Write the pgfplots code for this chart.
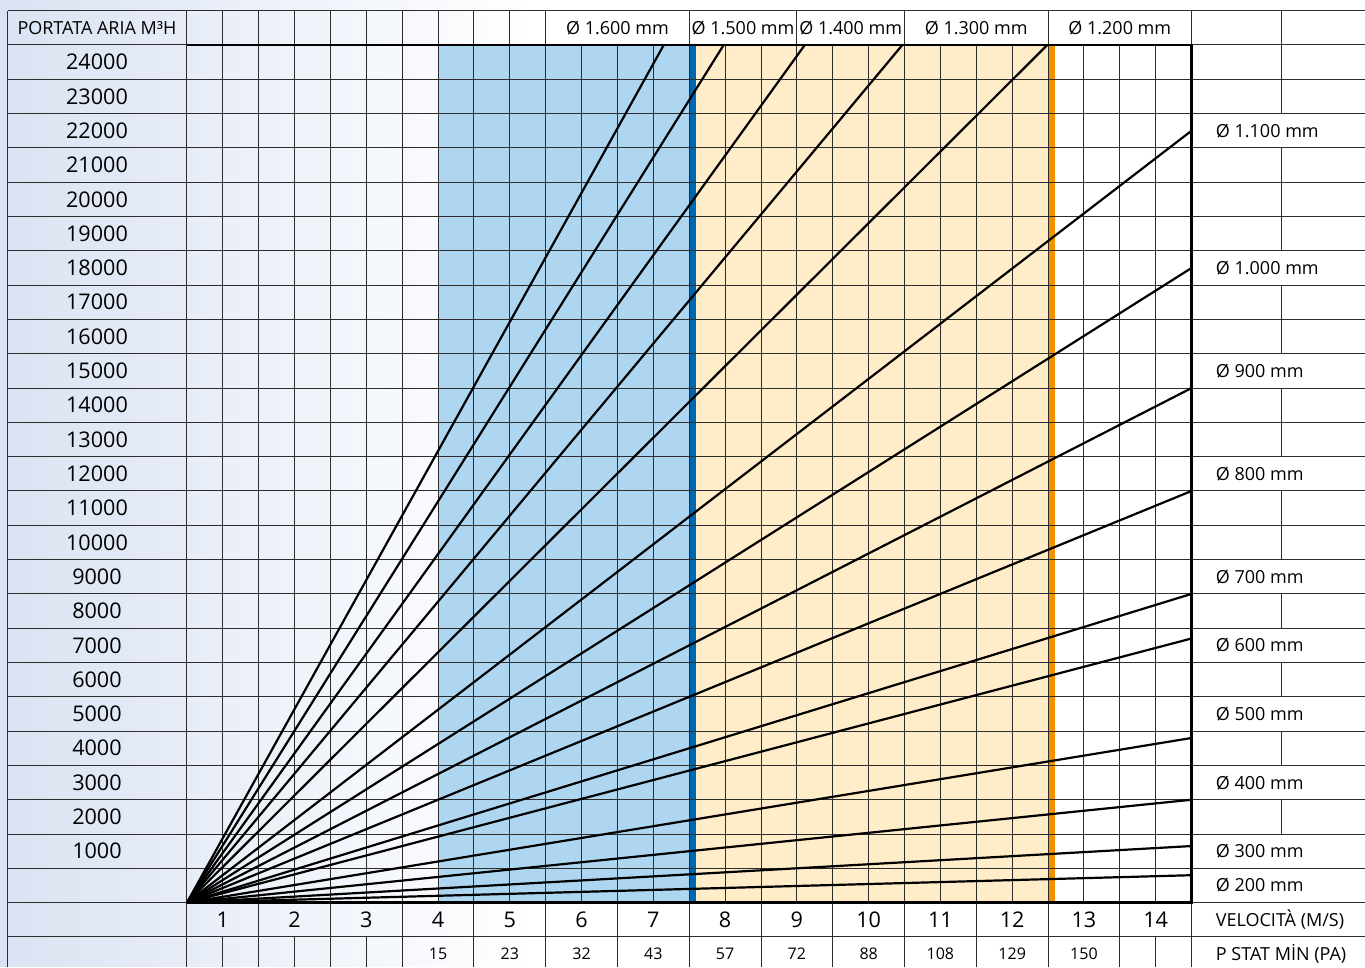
\documentclass[border=0pt]{standalone}
\usepackage{pgfplots}
\pgfplotsset{compat=1.18}
\usepackage{fontspec}
\setmainfont{Open Sans}
\definecolor{bgblue}{RGB}{218,227,243}
\definecolor{lblue}{RGB}{174,214,241}
\definecolor{cream}{RGB}{255,236,200}
\definecolor{dblue}{RGB}{0,103,177}
\definecolor{orng}{RGB}{243,146,0}
\definecolor{gridc}{RGB}{45,45,45}
\begin{document}
\begin{tikzpicture}
\begin{axis}[
  width=682.5pt, height=483.5pt, scale only axis,
  xmin=-2.605, xmax=16.41, ymin=-1865, ymax=26311,
  hide axis, clip=false,
]
% background
\fill[white] (axis cs:-2.605,-1865) rectangle (axis cs:16.41,26311);
\shade[left color=bgblue, right color=white] (axis cs:-2.605,-1865) rectangle (axis cs:4.8,26311);
% zones
\addplot[fill=lblue, draw=none] coordinates {(3.5,0) (3.5,25000) (7,25000) (7,0)} -- cycle;
\addplot[fill=cream, draw=none] coordinates {(7.1,0) (7.1,25000) (12,25000) (12,0)} -- cycle;
\addplot[fill=dblue, draw=none] coordinates {(7,0) (7,25000) (7.1,25000) (7.1,0)} -- cycle;
\addplot[fill=orng, draw=none] coordinates {(12,0) (12,25000) (12.1,25000) (12.1,0)} -- cycle;
% horizontal grid lines (all rows)
\pgfplotsinvokeforeach{-1,0,...,26}{
  \draw[gridc, line width=0.5pt] (axis cs:-2.4936,{#1*1000}) -- (axis cs:16.41,{#1*1000});
}
% outer verticals
\draw[gridc, line width=0.5pt] (axis cs:-2.4936,-1865) -- (axis cs:-2.4936,26000);
\draw[gridc, line width=0.5pt] (axis cs:0,-1865) -- (axis cs:0,26000);
\draw[gridc, line width=0.5pt] (axis cs:14,-1865) -- (axis cs:14,26000);
% plot area verticals
\pgfplotsinvokeforeach{1,...,27}{
  \draw[gridc, line width=0.5pt] (axis cs:{#1*0.5},0) -- (axis cs:{#1*0.5},25000);
}
% header verticals
\pgfplotsinvokeforeach{0.5,1,1.5,2,2.5,3,3.5,4,4.5,5,7,8.5,10,12,15.254}{
  \draw[gridc, line width=0.5pt] (axis cs:#1,25000) -- (axis cs:#1,26000);
}
% velocity row verticals
\pgfplotsinvokeforeach{1,...,13}{
  \draw[gridc, line width=0.5pt] (axis cs:#1,-1000) -- (axis cs:#1,0);
}
% P stat row verticals
\pgfplotsinvokeforeach{0.5,1,1.5,2,2.5,3,4,5,6,7,8,9,10,11,12,13,13.5}{
  \draw[gridc, line width=0.5pt] (axis cs:#1,-1865) -- (axis cs:#1,-1000);
}
% right area verticals (non-label rows)
\pgfplotsinvokeforeach{2,4,6,8,10,11,13,14,16,17,19,20,21,23,24}{
  \draw[gridc, line width=0.5pt] (axis cs:15.254,{#1*1000}) -- (axis cs:15.254,{#1*1000+1000});
}
% diameter lines
\addplot[black, line width=1.1pt] coordinates {(0,0) (6.645,25000)};
\addplot[black, line width=1.1pt] coordinates {(0,0) (7.48,25000)};
\addplot[black, line width=1.1pt] coordinates {(0,0) (8.61,25000)};
\addplot[black, line width=1.1pt] coordinates {(0,0) (9.97,25000)};
\addplot[black, line width=1.1pt] coordinates {(0,0) (11.99,25000)};
\addplot[black, line width=1.1pt] coordinates {(0,0) (14,22500)};
\addplot[black, line width=1.1pt] coordinates {(0,0) (14,18500)};
\addplot[black, line width=1.1pt] coordinates {(0,0) (14,15000)};
\addplot[black, line width=1.1pt] coordinates {(0,0) (14,12000)};
\addplot[black, line width=1.1pt] coordinates {(0,0) (14,9000)};
\addplot[black, line width=1.1pt] coordinates {(0,0) (14,7700)};
\addplot[black, line width=1.1pt] coordinates {(0,0) (14,4800)};
\addplot[black, line width=1.1pt] coordinates {(0,0) (14,3000)};
\addplot[black, line width=1.1pt] coordinates {(0,0) (14,1650)};
\addplot[black, line width=1.1pt] coordinates {(0,0) (14,800)};
% frame
\draw[black, line width=1.4pt] (axis cs:0,25000) -- (axis cs:14,25000) -- (axis cs:14,0) -- (axis cs:0,0);
% left labels
\node[font=\fontsize{9}{11}\selectfont, inner sep=0pt] at (axis cs:-1.2537,25500) {PORTATA ARIA M³H};
\pgfplotsinvokeforeach{1,...,24}{
  \node[font=\fontsize{10.8}{12}\selectfont, inner sep=0pt] at (axis cs:-1.2537,{#1*1000+500}) {#1000};
}
% header diameters
\node[font=\fontsize{9}{11}\selectfont, inner sep=0pt] at (axis cs:6.0,25500) {Ø 1.600 mm};
\node[font=\fontsize{9}{11}\selectfont, inner sep=0pt] at (axis cs:7.75,25500) {Ø 1.500 mm};
\node[font=\fontsize{9}{11}\selectfont, inner sep=0pt] at (axis cs:9.25,25500) {Ø 1.400 mm};
\node[font=\fontsize{9}{11}\selectfont, inner sep=0pt] at (axis cs:11.0,25500) {Ø 1.300 mm};
\node[font=\fontsize{9}{11}\selectfont, inner sep=0pt] at (axis cs:13.0,25500) {Ø 1.200 mm};
% right labels
\node[font=\fontsize{9}{11}\selectfont, inner sep=0pt, anchor=west] at (axis cs:14.334,22500) {Ø 1.100 mm};
\node[font=\fontsize{9}{11}\selectfont, inner sep=0pt, anchor=west] at (axis cs:14.334,18500) {Ø 1.000 mm};
\node[font=\fontsize{9}{11}\selectfont, inner sep=0pt, anchor=west] at (axis cs:14.334,15500) {Ø 900 mm};
\node[font=\fontsize{9}{11}\selectfont, inner sep=0pt, anchor=west] at (axis cs:14.334,12500) {Ø 800 mm};
\node[font=\fontsize{9}{11}\selectfont, inner sep=0pt, anchor=west] at (axis cs:14.334,9500) {Ø 700 mm};
\node[font=\fontsize{9}{11}\selectfont, inner sep=0pt, anchor=west] at (axis cs:14.334,7500) {Ø 600 mm};
\node[font=\fontsize{9}{11}\selectfont, inner sep=0pt, anchor=west] at (axis cs:14.334,5500) {Ø 500 mm};
\node[font=\fontsize{9}{11}\selectfont, inner sep=0pt, anchor=west] at (axis cs:14.334,3500) {Ø 400 mm};
\node[font=\fontsize{9}{11}\selectfont, inner sep=0pt, anchor=west] at (axis cs:14.334,1500) {Ø 300 mm};
\node[font=\fontsize{9}{11}\selectfont, inner sep=0pt, anchor=west] at (axis cs:14.334,500) {Ø 200 mm};
\node[font=\fontsize{9}{11}\selectfont, inner sep=0pt, anchor=west] at (axis cs:14.334,-500) {VELOCITÀ (M/S)};
\node[font=\fontsize{9}{11}\selectfont, inner sep=0pt, anchor=west] at (axis cs:14.334,-1500) {P STAT MİN (PA)};
% velocity numbers
\pgfplotsinvokeforeach{1,...,14}{
  \node[font=\fontsize{10.8}{12}\selectfont, inner sep=0pt] at (axis cs:{#1-0.5},-500) {#1};
}
% P stat values
\node[font=\fontsize{8}{10}\selectfont, inner sep=0pt] at (axis cs:3.5,-1480) {15};
\node[font=\fontsize{8}{10}\selectfont, inner sep=0pt] at (axis cs:4.5,-1480) {23};
\node[font=\fontsize{8}{10}\selectfont, inner sep=0pt] at (axis cs:5.5,-1480) {32};
\node[font=\fontsize{8}{10}\selectfont, inner sep=0pt] at (axis cs:6.5,-1480) {43};
\node[font=\fontsize{8}{10}\selectfont, inner sep=0pt] at (axis cs:7.5,-1480) {57};
\node[font=\fontsize{8}{10}\selectfont, inner sep=0pt] at (axis cs:8.5,-1480) {72};
\node[font=\fontsize{8}{10}\selectfont, inner sep=0pt] at (axis cs:9.5,-1480) {88};
\node[font=\fontsize{8}{10}\selectfont, inner sep=0pt] at (axis cs:10.5,-1480) {108};
\node[font=\fontsize{8}{10}\selectfont, inner sep=0pt] at (axis cs:11.5,-1480) {129};
\node[font=\fontsize{8}{10}\selectfont, inner sep=0pt] at (axis cs:12.5,-1480) {150};
\end{axis}
\end{tikzpicture}
\end{document}
